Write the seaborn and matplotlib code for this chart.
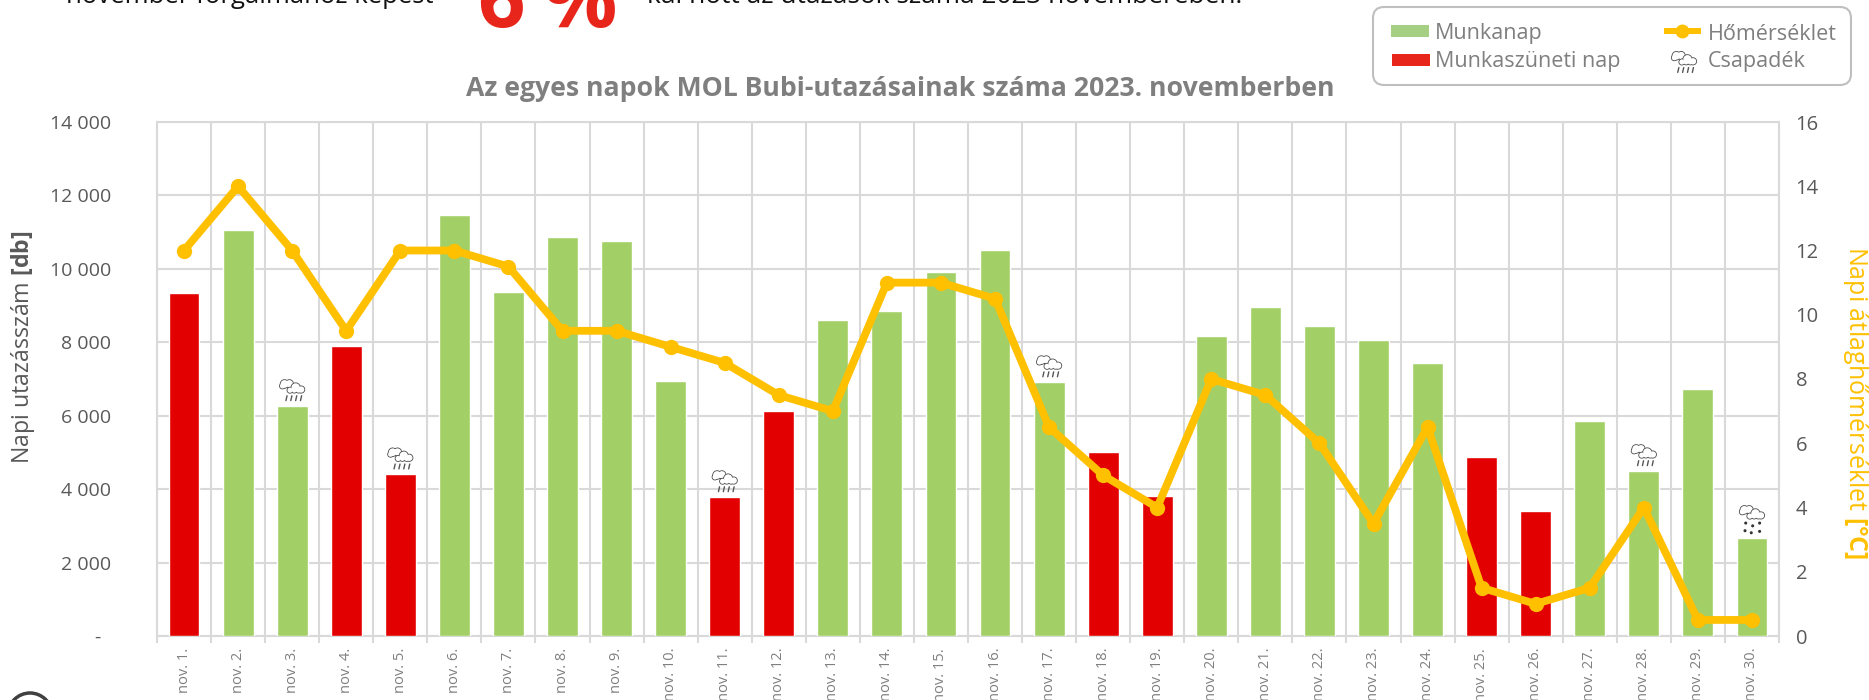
import numpy as np
import pandas as pd
import matplotlib.pyplot as plt
import seaborn as sns
from matplotlib.patches import Circle, FancyBboxPatch, Rectangle
from matplotlib.lines import Line2D
from matplotlib.offsetbox import AnnotationBbox, DrawingArea
from matplotlib.ticker import FuncFormatter, FixedLocator

days = [f'nov. {i}.' for i in range(1, 31)]
trips = [9340, 11060, 6260, 7890, 4400, 11470, 9380, 10870, 10750, 6940,
         3780, 6140, 8600, 8860, 9910, 10510, 6910, 5010, 3820, 8160,
         8960, 8440, 8060, 7440, 4870, 3400, 5860, 4490, 6720, 2660]
temps = [12, 14, 12, 9.5, 12, 12, 11.5, 9.5, 9.5, 9,
         8.5, 7.5, 7, 11, 11, 10.5, 6.5, 5, 4, 8,
         7.5, 6, 3.5, 6.5, 1.5, 1, 1.5, 4, 0.5, 0.5]
holidays = ['nov. 1.', 'nov. 4.', 'nov. 5.', 'nov. 11.', 'nov. 12.',
            'nov. 18.', 'nov. 19.', 'nov. 25.', 'nov. 26.']
rain_days = ['nov. 3.', 'nov. 5.', 'nov. 11.', 'nov. 17.', 'nov. 28.']
snow_days = ['nov. 30.']

GREEN = '#A3CF67'
RED = '#E30000'
YELLOW = '#FFC000'
GRID = '#D9D9D9'
TEXT = '#595959'
GREY = '#7F7F7F'
W, H = 1869, 700

sns.set_style('white')
plt.rcParams['font.family'] = ['Open Sans', 'DejaVu Sans']
plt.rcParams['mathtext.fontset'] = 'custom'
plt.rcParams['mathtext.bf'] = 'Open Sans:bold'
plt.rcParams['mathtext.rm'] = 'Open Sans'

df = pd.DataFrame({'day': days, 'trips': trips, 'temp': temps})
df['kind'] = ['holiday' if d in holidays else 'work' for d in days]

fig = plt.figure(figsize=(W / 100, H / 100), dpi=100)
ax = fig.add_axes([157 / W, 1 - 636 / H, (1779 - 157) / W, (636 - 122) / H])

sns.barplot(data=df, x='day', y='trips', hue='kind', dodge=False, width=0.57, saturation=1,
            palette={'work': GREEN, 'holiday': RED}, legend=False, ax=ax, zorder=3)
ax.set_xlim(-0.5, 29.5)
ax.set_ylim(0, 14000)
ax.set_xlabel('')
ax.set_ylabel('')
ax.set_yticks(range(0, 14001, 2000))
ax.yaxis.set_major_formatter(FuncFormatter(
    lambda v, p: '-\u00a0\u00a0' if v == 0 else f'{int(v):,}'.replace(',', ' ')))
ax.xaxis.set_minor_locator(FixedLocator(np.arange(-0.5, 30, 1)))
ax.grid(True, axis='y', color=GRID, lw=1.5, zorder=0)
ax.grid(True, axis='x', which='minor', color=GRID, lw=1.5, zorder=0)
ax.grid(False, axis='x', which='major')
ax.set_axisbelow(True)
ax.tick_params(axis='x', which='minor', length=5, width=1.5, color=GRID, bottom=True)
ax.tick_params(axis='x', which='major', length=0, labelsize=10.5, labelcolor=GREY,
               rotation=90, pad=8.5)
ax.tick_params(axis='y', length=0, labelsize=14, labelcolor=TEXT, pad=33)
for s in ax.spines.values():
    s.set_color(GRID)
    s.set_linewidth(1.5)

ax2 = ax.twinx()
sns.lineplot(data=df, x='day', y='temp', color=YELLOW, lw=5.6, marker='o', ms=11,
             mec=YELLOW, mew=0, sort=False, ax=ax2, zorder=5)
ax2.set_ylim(0, 16)
ax2.set_yticks(range(0, 17, 2))
ax2.set_ylabel('')
ax2.set_xlabel('')
ax2.tick_params(axis='y', length=0, labelsize=14.5, labelcolor=TEXT, pad=12)
for s in ax2.spines.values():
    s.set_visible(False)


def cloud_icon(snow=False):
    # small weather sign, drawn in points inside its own box
    da = DrawingArea(23, 17, 0, 0)
    edge = '#4A4A4A'
    for blobs in ([(6, 13, 2.8), (9.5, 13.2, 2.6), (4.5, 11.5, 1.8)],
                  [(10, 8.5, 1.9), (14, 10.5, 3), (18, 9, 2.3), (13, 8.5, 1.8), (16, 8.5, 1.8)]):
        for x, y, r in blobs:
            da.add_artist(Circle((x, y), r + 0.6, fc=edge, lw=0))
        for x, y, r in blobs:
            da.add_artist(Circle((x, y), r, fc='white', lw=0))
    if snow:
        for x, y in [(7, 3.5), (12, 1.5), (17, 3.5), (6.5, -2), (17, -2.5), (11, -3.5)]:
            da.add_artist(Circle((x, y), 1.1, fc='#333333', lw=0))
    else:
        for x in [7, 10.5, 14, 17.5]:
            da.add_artist(Line2D([x, x + 0.8], [1, 4.5], color='#555555', lw=1))
    return da


for day, value in zip(days, trips):
    if day in rain_days or day in snow_days:
        lift = 7.5 if day in snow_days else 3
        ab = AnnotationBbox(cloud_icon(day in snow_days), (days.index(day), value),
                            xybox=(0, lift), xycoords='data', boxcoords='offset points',
                            box_alignment=(0.5, 0), frameon=False, pad=0, zorder=4,
                            annotation_clip=False)
        ax.add_artist(ab)


def ftext(x, y, s, **kw):
    return fig.text(x / W, 1 - y / H, s, **kw)


ftext(900, 89, 'Az egyes napok MOL Bubi-utazásainak száma 2023. novemberben',
      ha='center', va='center', fontsize=19.2, fontweight='bold', color=GREY)
ftext(23, 347, r'Napi utazásszám $\mathbf{[db]}$', rotation=90, ha='center', va='center',
      fontsize=16.7, color=TEXT)
ftext(1855, 403, r'Napi átlaghőmérséklet $\mathbf{[°C]}$', rotation=270, ha='center', va='center',
      fontsize=18, color=YELLOW)

# lead sentence, cut off by the top edge
ftext(66, 3, 'november forgalmához képest', fontsize=18.5, color='#111111', va='baseline')
ftext(478, 27, '6\u2009%', fontsize=60, fontweight='bold', color='#E8251A', va='baseline')
ftext(647, 3, 'kal nőtt az utazások száma 2023 novemberében.', fontsize=18.9,
      color='#111111', va='baseline')

# legend box
box = FancyBboxPatch((1373, H - 85), 478, 78, boxstyle='round,pad=0,rounding_size=11',
                     transform=None, fc='white', ec='#BFBFBF', lw=1.5)
fig.add_artist(box)
fig.add_artist(Rectangle((1391 / W, 1 - 37 / H), 38 / W, 12 / H, transform=fig.transFigure,
                         fc='#A5D084', ec='none'))
fig.add_artist(Rectangle((1392 / W, 1 - 66 / H), 38 / W, 12 / H, transform=fig.transFigure,
                         fc='#E8251A', ec='none'))
fig.add_artist(Line2D([1664 / W, 1701 / W], [1 - 31 / H] * 2, transform=fig.transFigure,
                      color=YELLOW, lw=4.3, solid_capstyle='butt'))
fig.add_artist(Line2D([1682 / W], [1 - 31 / H], transform=fig.transFigure, color=YELLOW,
                      marker='o', ms=10, mew=0))
for x, y, s in [(1435, 34, 'Munkanap'), (1435, 62, 'Munkaszüneti nap'),
                (1708, 34, 'Hőmérséklet'), (1708, 62, 'Csapadék')]:
    ftext(x, y, s, fontsize=15.5, color=GREY, va='center')
leg_icon = AnnotationBbox(cloud_icon(), (1684 / W, 1 - 62 / H), xycoords='figure fraction',
                          box_alignment=(0.5, 0.5), frameon=False, pad=0, annotation_clip=False)
fig.add_artist(leg_icon)

# logo circle cut off by the bottom edge
fig.add_artist(Circle((30, H - 715), 22, transform=None, fc='none', ec='#404040', lw=2.5))

fig.savefig('out.png', dpi=100)
